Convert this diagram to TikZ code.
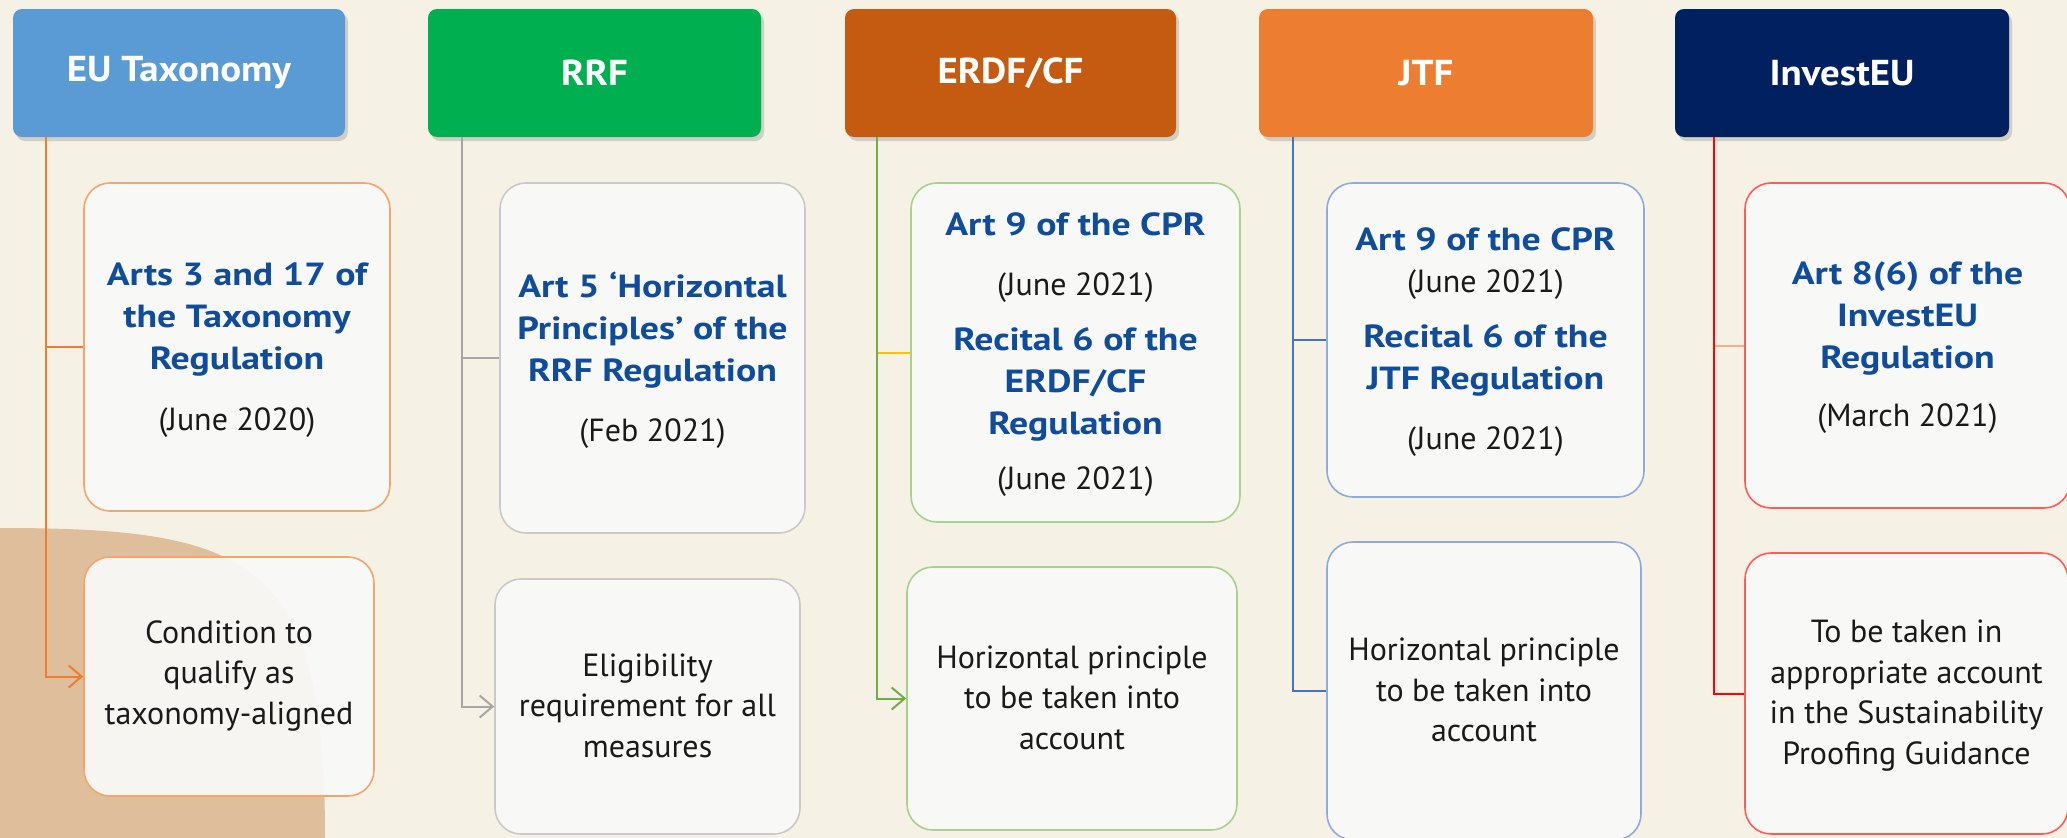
\documentclass[tikz,border=0pt]{standalone}
\usepackage{fontspec}
\setmainfont{PT Sans}
\newfontfamily\boldf{PT Sans}[FakeStretch=1.18]
\newfontfamily\hfont{PT Sans}[FakeStretch=1.08]
\usetikzlibrary{arrows.meta,shadows}
\definecolor{bgc}{HTML}{F5F1E4}
\definecolor{blobc}{HTML}{DFBF9B}
\definecolor{boxfill}{HTML}{F9F9F8}
\definecolor{eublue}{HTML}{0F4C9C}
\definecolor{txtc}{HTML}{1A1A1A}
\definecolor{hA}{HTML}{5B9BD5}
\definecolor{hB}{HTML}{00B050}
\definecolor{hC}{HTML}{C55A11}
\definecolor{hD}{HTML}{ED7D31}
\definecolor{hE}{HTML}{002060}
\definecolor{lA}{HTML}{ED7D31}
\definecolor{lB}{HTML}{A6A6A6}
\definecolor{lC}{HTML}{70AD47}
\definecolor{lD}{HTML}{4472C4}
\definecolor{lE}{HTML}{FF0000}
\definecolor{brC}{HTML}{FFC000}
\definecolor{brE}{HTML}{F4B183}
\definecolor{bA}{HTML}{F5A46C}
\definecolor{bB}{HTML}{C9C9C9}
\definecolor{bC}{HTML}{A9D18E}
\definecolor{bD}{HTML}{8FAADC}
\definecolor{bE}{HTML}{FF5B5B}
\newcommand{\artx}[1]{{\color{eublue}\boldf\bfseries #1}}
\tikzset{
  hdr/.style={fill=#1, rounded corners=9pt, minimum height=128pt, inner sep=0pt,
    text=white, font=\fontsize{36}{40}\selectfont\hfont\bfseries,
    drop shadow={shadow xshift=3pt, shadow yshift=-4pt, opacity=0.3}},
  cbox/.style={draw=#1, line width=1.6pt, rounded corners=26pt, fill=boxfill, fill opacity=0.94, inner sep=0pt},
  toptxt/.style={align=center, text=txtc, font=\fontsize{32}{42}\selectfont, inner sep=0pt, yshift=-2pt},
  bottxt/.style={align=center, text=txtc, font=\fontsize{32}{40.5}\selectfont, inner sep=0pt, yshift=1pt},
  conn/.style={draw=#1, line width=2pt},
  arr/.style={-{Straight Barb[length=13pt,width=22pt,line width=2pt]}}
}
\begin{document}
\begin{tikzpicture}[x=1pt,y=-1pt]
\useasboundingbox (0,0) rectangle (2067,838);
\fill[bgc] (0,0) rectangle (2067,838);
\fill[blobc] (0,528) .. controls (255,528) and (325,560) .. (325,838) -- (0,838) -- cycle;

% headers
\node[hdr=hA, minimum width=332pt] (h1) at (179,73) {EU Taxonomy};
\node[hdr=hB, minimum width=333pt] (h2) at (594.5,73) {RRF};
\node[hdr=hC, minimum width=331pt] (h3) at (1010.5,73) {ERDF/CF};
\node[hdr=hD, minimum width=334pt] (h4) at (1426,73) {JTF};
\node[hdr=hE, minimum width=334pt] (h5) at (1842,73) {InvestEU};

% trunk x positions
\coordinate (x1) at (46,0);
\coordinate (x2) at (462,0);
\coordinate (x3) at (877,0);
\coordinate (x4) at (1293,0);
\coordinate (x5) at (1714,0);

% top boxes
\node[cbox=bA, minimum width=306pt, minimum height=328pt] (t1) at (237,347) {};
\node[cbox=bB, minimum width=305pt, minimum height=350pt] (t2) at (652.5,358) {};
\node[cbox=bC, minimum width=329pt, minimum height=339pt] (t3) at (1075.5,352.5) {};
\node[cbox=bD, minimum width=317pt, minimum height=314pt] (t4) at (1485.5,340) {};
\node[cbox=bE, minimum width=325pt, minimum height=325pt] (t5) at (1907.5,345.5) {};

% bottom boxes
\node[cbox=bA, minimum width=290pt, minimum height=239pt] (b1) at (229,676.5) {};
\node[cbox=bB, minimum width=305pt, minimum height=255pt] (b2) at (647.5,706.5) {};
\node[cbox=bC, minimum width=330pt, minimum height=263pt] (b3) at (1072,698.5) {};
\node[cbox=bD, minimum width=314pt, minimum height=298pt] (b4) at (1484,691) {};
\node[cbox=bE, minimum width=323pt, minimum height=281pt] (b5) at (1906.5,693.5) {};

% texts top
\node[toptxt, yshift=-1pt] (t1l) at (t1.center) {\artx{Arts 3 and 17 of}\\ \artx{the Taxonomy}\\ \artx{Regulation}\\[19pt] (June 2020)};
\node[toptxt] (t2l) at (t2.center) {\artx{Art 5 ‘Horizontal}\\ \artx{Principles’ of the}\\ \artx{RRF Regulation}\\[18pt] (Feb 2021)};
\node[toptxt] (t3l) at (t3.center) {\artx{Art 9 of the CPR}\\[18pt] (June 2021)\\[13pt] \artx{Recital 6 of the}\\ \artx{ERDF/CF}\\ \artx{Regulation}\\[13pt] (June 2021)};
\node[toptxt] (t4l) at (t4.center) {\artx{Art 9 of the CPR}\\ (June 2021)\\[13pt] \artx{Recital 6 of the}\\ \artx{JTF Regulation}\\[18pt] (June 2021)};
\node[toptxt] (t5l) at (t5.center) {\artx{Art 8(6) of the}\\ \artx{InvestEU}\\ \artx{Regulation}\\[16pt] (March 2021)};

% texts bottom
\node[bottxt] (b1l) at (b1.center) {Condition to\\ qualify as\\ taxonomy-aligned};
\node[bottxt] (b2l) at (b2.center) {Eligibility\\ requirement for all\\ measures};
\node[bottxt] (b3l) at (b3.center) {Horizontal principle\\ to be taken into\\ account};
\node[bottxt] (b4l) at (b4.center) {Horizontal principle\\ to be taken into\\ account};
\node[bottxt, yshift=-3pt] (b5l) at (b5.center) {To be taken in\\ appropriate account\\ in the Sustainability\\ Proofing Guidance};

% connectors
\draw[conn=lA, arr] (h1.south -| x1) |- (b1.west);
\draw[conn=lA] (x1 |- t1.west) -- (t1.west);
\draw[conn=lB, arr] (h2.south -| x2) |- (b2.west);
\draw[conn=lB] (x2 |- t2.west) -- (t2.west);
\draw[conn=lC, arr] (h3.south -| x3) |- (b3.west);
\draw[conn=brC] ([xshift=1pt]x3 |- t3.west) -- (t3.west);
\draw[conn=lD] (h4.south -| x4) |- (b4.west);
\draw[conn=lD] (x4 |- t4.west) -- (t4.west);
\draw[conn=lE] (h5.south -| x5) |- (b5.west);
\draw[conn=brE] ([xshift=1pt]x5 |- t5.west) -- (t5.west);
\end{tikzpicture}
\end{document}
